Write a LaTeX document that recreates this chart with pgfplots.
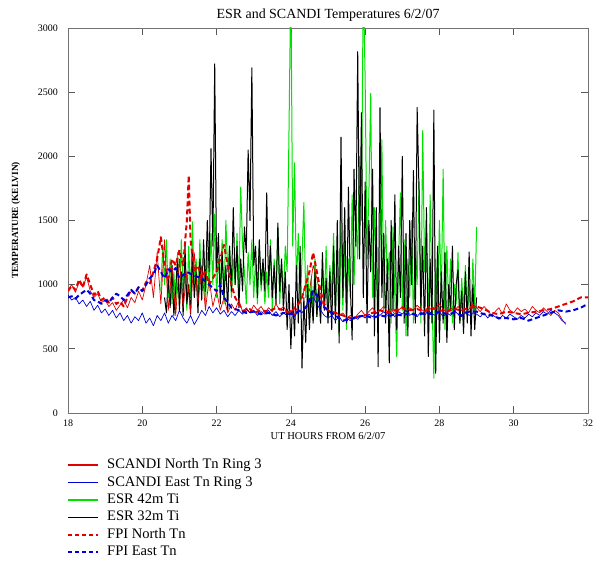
\documentclass[border=0pt]{standalone}
\usepackage{pgfplots}
\usepackage{pgfplotstable}
\pgfplotsset{compat=1.18}
\usepackage{fontspec}
\setmainfont{Liberation Serif}

\definecolor{esrgreen}{RGB}{0,225,0}
\definecolor{scred}{RGB}{225,0,0}
\definecolor{scblue}{RGB}{0,0,220}

% ESR 32m Ti
\pgfplotstableread{
x y
20.60 900
20.65 780
20.70 1050
20.75 820
20.80 1150
20.85 760
20.90 980
20.95 1200
21.00 800
21.05 1100
21.10 760
21.15 1300
21.20 850
21.25 1000
21.30 770
21.35 1250
21.40 900
21.45 1100
21.50 780
21.55 1200
21.60 880
21.65 1350
21.70 950
21.75 1500
21.80 1100
21.85 2060
21.90 1300
21.95 2720
22.00 1100
22.05 1400
22.10 850
22.15 1250
22.20 900
22.25 1150
22.30 800
22.35 1300
22.40 950
22.45 1600
22.50 1000
22.55 1300
22.60 820
22.65 1200
22.70 950
22.75 1450
22.80 1250
22.85 2050
22.90 1500
22.95 2690
23.00 1150
23.05 1300
23.10 900
23.15 1350
23.20 1000
23.25 1200
23.30 950
23.35 1715
23.40 1000
23.45 1300
23.50 900
23.55 1150
23.60 850
23.65 1480
23.70 950
23.75 1200
23.80 800
23.85 1100
23.90 650
23.95 1000
24.00 500
24.05 900
24.10 600
24.15 1150
24.20 700
24.25 1300
24.30 350
24.35 900
24.40 550
24.45 1000
24.50 650
24.55 950
24.60 700
24.65 1100
24.70 750
24.75 1000
24.80 700
24.85 1250
24.90 800
24.95 1050
25.00 700
25.05 1100
25.10 650
25.15 1300
25.20 700
25.25 1500
25.30 545
25.35 2150
25.40 900
25.45 1600
25.50 700
25.55 1760
25.60 1000
25.65 570
25.70 1900
25.75 1300
25.80 2815
25.85 1200
25.90 2340
25.95 900
26.00 1800
26.05 700
26.10 1500
26.15 1100
26.20 1900
26.25 600
26.30 1600
26.35 360
26.40 2380
26.45 900
26.50 1400
26.55 700
26.60 1200
26.65 390
26.70 1500
26.75 800
26.80 1700
26.85 650
26.90 1300
26.95 900
27.00 2000
27.05 700
27.10 1400
27.15 600
27.20 1500
27.25 1000
27.30 1890
27.35 700
27.40 2380
27.45 1740
27.50 800
27.55 1300
27.60 600
27.65 1600
27.70 440
27.75 1200
27.80 700
27.85 2360
27.90 310
27.95 1300
28.00 550
28.05 1100
28.10 700
28.15 1250
28.20 550
28.25 1000
28.30 800
28.35 1300
28.40 650
28.45 1000
28.50 1115
28.55 700
28.60 950
28.65 620
28.70 1100
28.75 700
28.80 1255
28.85 600
28.90 1000
28.95 650
29.00 900
}\esrthirtytwo

% ESR 42m Ti
\pgfplotstableread{
x y
20.50 950
20.55 1300
20.60 1000
20.65 1350
20.70 900
20.75 1200
20.80 850
20.85 1100
20.90 800
20.95 1250
21.00 850
21.05 1350
21.10 950
21.15 1150
21.20 800
21.25 1300
21.30 900
21.35 1490
21.40 1000
21.45 1200
21.50 850
21.55 1350
21.60 950
21.65 1100
21.70 850
21.75 1250
21.80 950
21.85 1400
21.90 1000
21.95 1550
22.00 900
22.05 1200
22.10 1000
22.15 1350
22.20 850
22.25 1500
22.30 1100
22.35 1300
22.40 900
22.45 1200
22.50 1000
22.55 1400
22.60 950
22.65 1760
22.70 1300
22.75 1100
22.80 850
22.85 1250
22.90 1000
22.95 1350
23.00 900
23.05 1200
23.10 850
23.15 1300
23.20 950
23.25 1150
23.30 850
23.35 1100
23.40 900
23.45 1350
23.50 800
23.55 1200
23.60 900
23.65 1450
23.70 850
23.75 1150
23.80 900
23.85 1300
23.90 1100
23.95 2200
24.00 3400
24.05 1300
24.10 1950
24.15 1000
24.20 1400
24.25 850
24.30 1200
24.35 1640
24.40 900
24.45 1150
24.50 750
24.55 1050
24.60 800
24.65 1200
24.70 750
24.75 1000
24.80 700
24.85 1100
24.90 850
24.95 1300
25.00 750
25.05 1150
25.10 900
25.15 1400
25.20 800
25.25 1250
25.30 600
25.35 1500
25.40 800
25.45 1350
25.50 650
25.55 1200
25.60 900
25.65 1700
25.70 1000
25.75 1550
25.80 1200
25.85 2000
25.90 1500
25.95 3400
26.00 2600
26.05 1200
26.10 1700
26.15 2490
26.20 900
26.25 1600
26.30 1100
26.35 700
26.40 1350
26.45 2130
26.50 800
26.55 1500
26.60 1000
26.65 1250
26.70 700
26.75 1450
26.80 900
26.85 440
26.90 1200
26.95 1715
27.00 800
27.05 1350
27.10 600
27.15 1200
27.20 900
27.25 1500
27.30 700
27.35 1300
27.40 1000
27.45 1800
27.50 700
27.55 2200
27.60 1100
27.65 1500
27.70 650
27.75 1700
27.80 900
27.85 270
27.90 1200
27.95 800
28.00 1500
28.05 900
28.10 1900
28.15 650
28.20 1300
28.25 800
28.30 1200
28.35 700
28.40 1000
28.45 850
28.50 1250
28.55 700
28.60 1050
28.65 800
28.70 1150
28.75 750
28.80 1000
28.85 700
28.90 1200
28.95 800
29.00 1450
}\esrfortytwo

% SCANDI North Tn, ring 3
\pgfplotstableread{
x y
18.0 960
18.1 1000
18.2 940
18.3 1020
18.4 980
18.5 1060
18.6 950
18.7 900
18.8 930
18.9 860
19.0 880
19.1 830
19.2 860
19.3 800
19.4 840
19.5 880
19.6 820
19.7 900
19.8 860
19.9 950
20.0 880
20.1 1000
20.2 1150
20.3 900
20.4 1250
20.5 850
20.6 1350
20.7 800
20.8 1150
20.9 760
21.0 1200
21.1 820
21.2 1100
21.3 780
21.4 1250
21.5 850
21.6 1150
21.7 800
21.8 1050
21.9 830
22.0 950
22.1 800
22.2 900
22.3 780
22.4 850
22.5 800
22.6 880
22.7 790
22.8 820
22.9 780
23.0 840
23.1 800
23.2 830
23.3 780
23.4 820
23.5 790
23.6 850
23.7 800
23.8 830
23.9 780
24.0 800
24.1 760
24.2 850
24.3 900
24.4 1000
24.5 950
24.6 1150
24.7 1050
24.8 900
24.9 820
25.0 800
25.1 770
25.2 790
25.3 760
25.4 780
25.5 740
25.6 760
25.7 730
25.8 770
25.9 800
26.0 760
26.1 790
26.2 820
26.3 780
26.4 800
26.5 830
26.6 790
26.7 810
26.8 770
26.9 800
27.0 830
27.1 790
27.2 820
27.3 800
27.4 840
27.5 810
27.6 790
27.7 830
27.8 800
27.9 820
28.0 850
28.1 810
28.2 780
28.3 820
28.4 800
28.5 830
28.6 800
28.7 780
28.8 810
28.9 850
29.0 820
29.1 790
29.2 830
29.3 800
29.4 760
29.5 790
29.6 820
29.7 770
29.8 850
29.9 800
30.0 780
30.1 820
30.2 790
30.3 810
30.4 780
30.5 830
30.6 800
30.7 780
30.8 820
30.9 790
31.0 760
31.1 800
31.2 780
31.3 730
31.4 690
}\scandinorth

% SCANDI East Tn, ring 3
\pgfplotstableread{
x y
18.0 920
18.1 880
18.2 900
18.3 850
18.4 880
18.5 830
18.6 870
18.7 800
18.8 840
18.9 780
19.0 810
19.1 760
19.2 800
19.3 740
19.4 780
19.5 720
19.6 760
19.7 700
19.8 750
19.9 720
20.0 780
20.1 700
20.2 740
20.3 680
20.4 760
20.5 720
20.6 780
20.7 700
20.8 760
20.9 720
21.0 800
21.1 740
21.2 700
21.3 760
21.4 690
21.5 740
21.6 800
21.7 760
21.8 830
21.9 780
22.0 820
22.1 770
22.2 800
22.3 750
22.4 790
22.5 760
22.6 800
22.7 770
22.8 810
22.9 780
23.0 800
23.1 760
23.2 790
23.3 770
23.4 800
23.5 760
23.6 790
23.7 750
23.8 780
23.9 760
24.0 790
24.1 750
24.2 800
24.3 780
24.4 830
24.5 870
24.6 900
24.7 850
24.8 800
24.9 760
25.0 740
25.1 760
25.2 720
25.3 750
25.4 710
25.5 740
25.6 720
25.7 750
25.8 730
25.9 760
26.0 740
26.1 770
26.2 750
26.3 780
26.4 760
26.5 790
26.6 760
26.7 780
26.8 750
26.9 790
27.0 770
27.1 800
27.2 760
27.3 780
27.4 750
27.5 790
27.6 760
27.7 800
27.8 770
27.9 760
28.0 790
28.1 750
28.2 780
28.3 760
28.4 800
28.5 770
28.6 750
28.7 790
28.8 760
28.9 780
29.0 770
29.1 750
29.2 780
29.3 740
29.4 770
29.5 750
29.6 730
29.7 760
29.8 740
29.9 770
30.0 750
30.1 730
30.2 760
30.3 740
30.4 770
30.5 750
30.6 780
30.7 760
30.8 790
30.9 770
31.0 800
31.1 780
31.2 760
31.3 720
31.4 700
}\scandieast

% FPI North Tn
\pgfplotstableread{
x y
18.0 950
18.1 990
18.2 960
18.3 1040
18.4 980
18.5 1080
18.6 1000
18.7 920
18.8 950
18.9 880
19.0 900
19.1 860
19.2 900
19.3 850
19.4 870
19.5 830
19.6 900
19.7 960
19.8 930
19.9 980
20.0 950
20.1 1020
20.2 1000
20.3 1100
20.4 1200
20.5 1370
20.6 1150
20.7 1050
20.8 1200
20.9 1150
21.0 1270
21.1 1150
21.2 1500
21.25 1850
21.3 1350
21.4 1100
21.5 1150
21.6 1050
21.7 1100
21.8 1000
21.9 1050
22.0 1100
22.1 1200
22.2 1310
22.3 1150
22.4 1000
22.5 900
22.6 850
22.7 800
22.8 790
22.9 810
23.0 780
23.2 800
23.4 790
23.6 820
23.8 800
24.0 780
24.1 820
24.2 850
24.3 900
24.4 1000
24.5 1100
24.6 1250
24.7 1100
24.8 950
24.9 850
25.0 800
25.2 780
25.4 760
25.6 740
25.8 750
26.0 760
26.2 780
26.4 800
26.6 780
26.8 800
27.0 820
27.2 800
27.4 810
27.6 790
27.8 820
28.0 800
28.2 790
28.4 810
28.6 800
28.8 820
29.0 830
29.2 810
29.4 780
29.6 770
29.8 790
30.0 780
30.2 770
30.4 780
30.6 790
30.8 800
31.0 810
31.2 830
31.4 850
31.6 870
31.8 900
32.0 900
}\fpinorth

% FPI East Tn
\pgfplotstableread{
x y
18.0 900
18.1 910
18.2 890
18.3 920
18.4 940
18.5 960
18.6 930
18.7 880
18.8 870
18.9 850
19.0 880
19.1 860
19.2 900
19.3 930
19.4 910
19.5 880
19.6 920
19.7 960
19.8 930
19.9 980
20.0 950
20.1 1000
20.2 1050
20.3 1080
20.4 1150
20.5 1100
20.6 1050
20.7 1120
20.8 1100
20.9 1130
21.0 1050
21.2 1100
21.4 1070
21.6 1050
21.8 1000
22.0 950
22.1 1000
22.2 900
22.3 860
22.4 820
22.6 800
22.8 780
23.0 790
23.2 770
23.4 780
23.6 760
23.8 780
24.0 770
24.2 790
24.4 820
24.5 880
24.6 950
24.7 920
24.8 850
25.0 800
25.2 760
25.4 720
25.6 730
25.8 750
26.0 760
26.2 740
26.4 760
26.6 750
26.8 770
27.0 760
27.2 780
27.4 760
27.6 780
27.8 770
28.0 790
28.2 770
28.4 780
28.6 760
28.8 790
29.0 790
29.2 770
29.4 760
29.6 740
29.8 740
30.0 730
30.2 740
30.4 720
30.6 740
30.8 760
31.0 780
31.2 800
31.4 790
31.6 800
31.8 820
32.0 850
}\fpieast

\begin{document}
\begin{tikzpicture}
\path[use as bounding box] (0,0) rectangle (602bp,561bp);
\begin{axis}[
  at={(68bp,148bp)}, anchor=south west,
  scale only axis, width=520bp, height=385bp,
  xmin=18, xmax=32, ymin=0, ymax=3000,
  xtick={18,20,...,32}, ytick={0,500,...,3000},
  tick align=inside, major tick length=7bp,
  axis line style={black!55, line width=0.8pt},
  tick style={black!65, line width=0.7pt},
  /pgf/number format/assume math mode=true,
  /pgf/number format/1000 sep={},
  ticklabel style={font=\fontsize{10}{12}\selectfont},
  yticklabel style={inner sep=0pt, xshift=-10bp},
  xticklabel style={inner sep=0pt, yshift=-7bp},
  title={ESR and SCANDI Temperatures 6/2/07},
  title style={at={(axis description cs:0.5,1.019)}, anchor=center, inner sep=0pt,
    font=\fontsize{14}{16}\selectfont},
  xlabel={UT HOURS FROM 6/2/07},
  xlabel style={at={(axis description cs:0.5,-0.0597)}, anchor=center, inner sep=0pt,
    font=\fontsize{10.6}{12}\selectfont},
  ylabel={TEMPERATURE (KELVIN)},
  ylabel style={at={(axis description cs:-0.1,0.5)}, anchor=center, inner sep=0pt,
    font=\bfseries\fontsize{9.4}{11}\selectfont},
  legend style={at={(axis description cs:0,0)}, anchor=north west,
    xshift=-1bp, yshift=-45.5bp, draw=none, fill=none, inner sep=0pt,
    column sep=8bp, row sep=4.4bp, font=\fontsize{14.6}{16}\selectfont,
    nodes={inner sep=0pt, text height=10bp, text depth=3bp}},
  legend cell align=left,
  legend image code/.code={\draw[#1] (0bp,0bp) -- (30bp,0bp);},
  line join=round,
]
% ESR ion temperatures
\addplot[esrgreen, line width=1bp, forget plot] table {\esrfortytwo};
\addplot[black, line width=1bp, forget plot] table {\esrthirtytwo};
% SCANDI neutral temperatures
\addplot[scred, line width=0.7bp, forget plot] table {\scandinorth};
\addplot[scblue, line width=0.7bp, forget plot] table {\scandieast};
% FPI neutral temperatures
\addplot[scred, line width=2bp, dash pattern=on 5bp off 3bp, forget plot] table {\fpinorth};
\addplot[scblue, line width=2bp, dash pattern=on 5bp off 3bp, forget plot] table {\fpieast};

\addlegendimage{draw=scred, line width=1.6bp}
\addlegendentry{SCANDI North Tn Ring 3}
\addlegendimage{draw=scblue, line width=1.6bp}
\addlegendentry{SCANDI East Tn Ring 3}
\addlegendimage{draw=esrgreen, line width=1.6bp}
\addlegendentry{ESR 42m Ti}
\addlegendimage{draw=black, line width=1.6bp}
\addlegendentry{ESR 32m Ti}
\addlegendimage{draw=scred, line width=2bp, dash pattern=on 4bp off 3bp}
\addlegendentry{FPI North Tn}
\addlegendimage{draw=scblue, line width=2bp, dash pattern=on 4bp off 3bp}
\addlegendentry{FPI East Tn}
\end{axis}
\end{tikzpicture}
\end{document}
